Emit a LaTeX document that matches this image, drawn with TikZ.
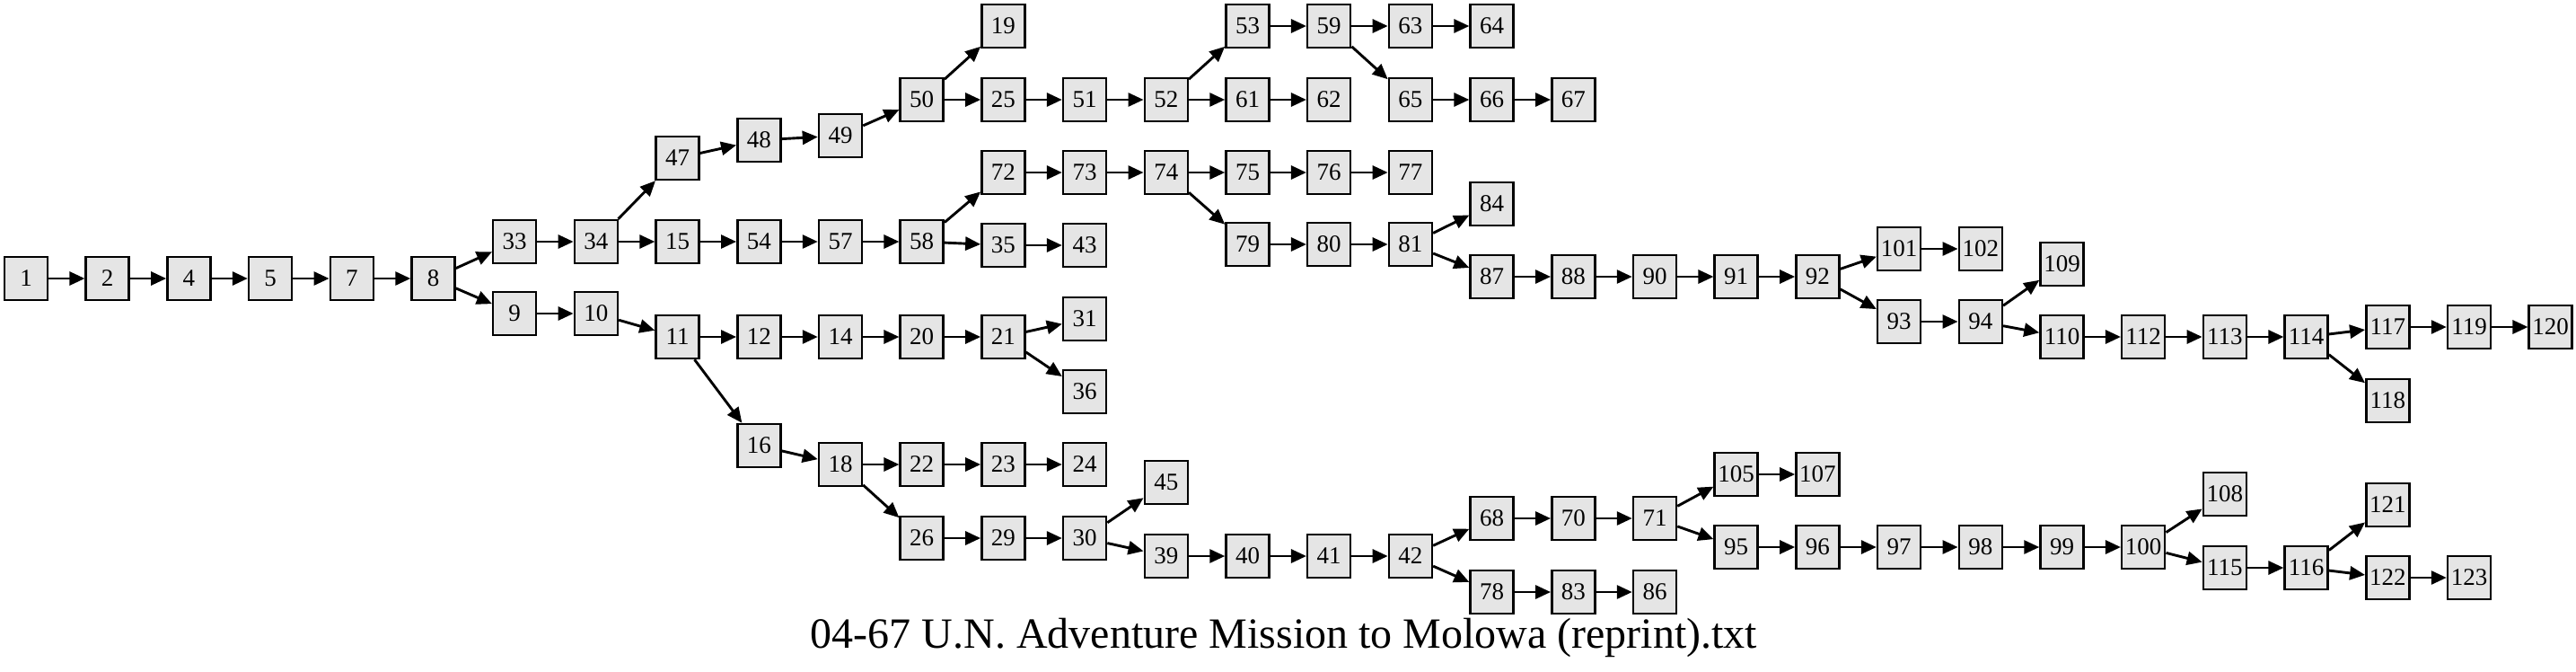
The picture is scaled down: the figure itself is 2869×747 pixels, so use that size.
\documentclass[tikz,border=0pt]{standalone}
\usepackage{fontspec}
\setmainfont{Liberation Serif}
\usetikzlibrary{arrows.meta}
\definecolor{boxFill}{gray}{0.9}
\begin{document}
\begin{tikzpicture}[x=1pt,y=-1pt,->,>={Triangle[length=17pt,width=15pt]},line width=2.9pt,
                box/.style={draw,line width=2.5pt,fill=boxFill,minimum width=48pt,minimum height=48pt,inner sep=0pt,font=\fontsize{27}{27}\selectfont}]
                \useasboundingbox (0,0) rectangle (2869,747);
                % nodes: name/rank/y
                \foreach \n/\r/\y in {1/0/310,2/1/310,4/2/310,5/3/310,7/4/310,8/5/310,
                    33/6/269,9/6/349,34/7/269,10/7/349,
                    47/8/176,15/8/269,11/8/375,
                    48/9/156,54/9/269,12/9/375,16/9/496,
                    49/10/151,57/10/269,14/10/375,18/10/517,
                    50/11/111,58/11/269,20/11/375,22/11/517,26/11/599,
                    19/12/29,25/12/111,72/12/192,35/12/273,21/12/375,23/12/517,29/12/599,
                    51/13/111,73/13/192,43/13/273,31/13/355,36/13/436,24/13/517,30/13/599,
                    52/14/111,74/14/192,45/14/537,39/14/619,
                    53/15/29,61/15/111,75/15/192,79/15/272,40/15/619,
                    59/16/29,62/16/111,76/16/192,80/16/272,41/16/619,
                    63/17/29,65/17/111,77/17/192,81/17/272,42/17/619,
                    64/18/29,66/18/111,84/18/227,87/18/308,68/18/577,78/18/659,
                    67/19/111,88/19/308,70/19/577,83/19/659,
                    90/20/308,71/20/577,86/20/659,
                    91/21/308,105/21/528,95/21/609,
                    92/22/308,107/22/528,96/22/609,
                    101/23/277,93/23/358,97/23/609,
                    102/24/277,94/24/358,98/24/609,
                    109/25/294,110/25/375,99/25/609,
                    112/26/375,100/26/609,
                    113/27/375,108/27/550,115/27/632,
                    114/28/375,116/28/632,
                    117/29/364,118/29/446,121/29/562,122/29/643,
                    119/30/364,123/30/643,
                    120/31/364}
                    \node[box] (n\n) at ({29+90.7*\r},\y) {\n};
                % edges
                \foreach \a/\b in {1/2,2/4,4/5,5/7,7/8,8/33,8/9,33/34,9/10,34/47,34/15,10/11,
                    47/48,15/54,11/12,11/16,48/49,54/57,12/14,16/18,49/50,57/58,14/20,18/22,18/26,
                    50/19,50/25,58/72,58/35,20/21,22/23,26/29,25/51,72/73,35/43,21/31,21/36,23/24,29/30,
                    51/52,73/74,30/45,30/39,52/53,52/61,74/75,74/79,39/40,53/59,61/62,75/76,79/80,40/41,
                    59/63,59/65,76/77,80/81,41/42,63/64,65/66,81/84,81/87,42/68,42/78,66/67,87/88,
                    68/70,78/83,88/90,70/71,83/86,90/91,71/105,71/95,91/92,105/107,95/96,92/101,92/93,
                    96/97,101/102,93/94,97/98,94/109,94/110,98/99,110/112,99/100,112/113,100/108,100/115,
                    113/114,115/116,114/117,114/118,116/121,116/122,117/119,122/123,119/120}
                    \draw (n\a) -- (n\b);
                \node[anchor=base,font=\fontsize{48}{48}\selectfont] (title) at (1430,721) {04-67 U.N. Adventure Mission to Molowa (reprint).txt};
\end{tikzpicture}
\end{document}
